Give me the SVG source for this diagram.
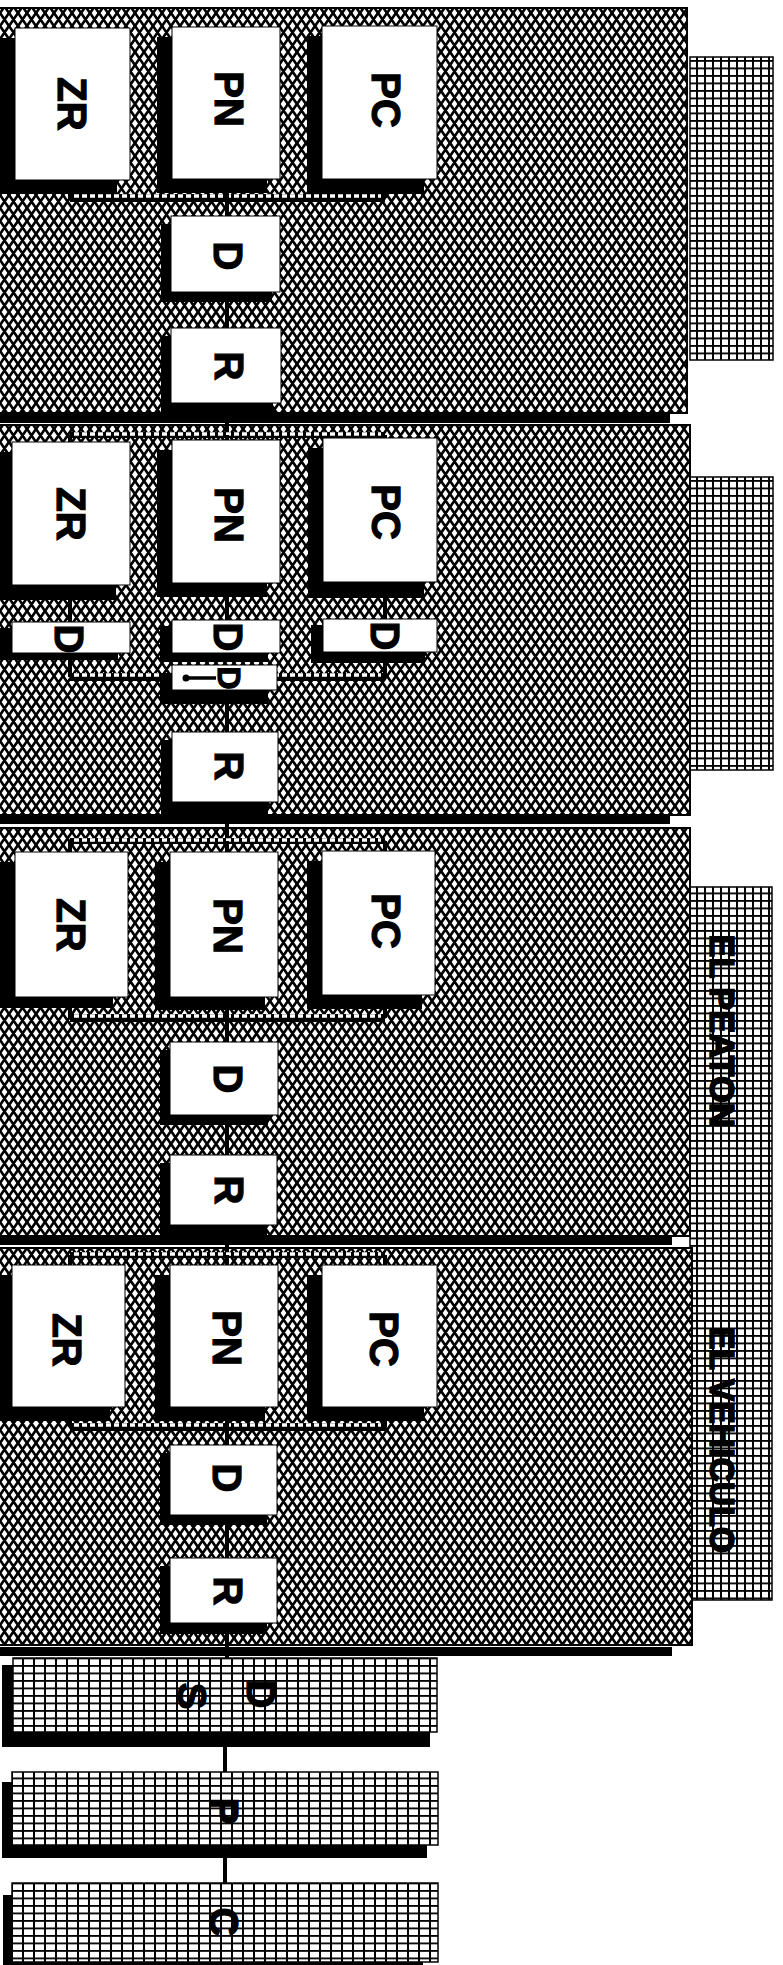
<svg xmlns="http://www.w3.org/2000/svg" width="783" height="1965" viewBox="0 0 783 1965">
<style>
.bg{fill:#fff}
.panel{fill:url(#hatch);stroke:#000;stroke-width:2}
.bar{fill:#000}
.tab{fill:url(#grid);stroke:#000;stroke-width:1.5}
.gbox{fill:url(#grid2);stroke:#000;stroke-width:1.5}
.box{fill:#fff;stroke:#000;stroke-width:1}
.sh{fill:#000}
.lbl{font-family:"Liberation Sans",Arial,sans-serif;font-weight:bold;font-size:40px;fill:#000;stroke:#000;stroke-width:1.2}
.tlbl{font-family:"Liberation Sans",Arial,sans-serif;font-weight:bold;font-size:35px;fill:#000;stroke:#000;stroke-width:1.5}
.band{stroke:#000;stroke-width:8;fill:none}
.tband{stroke:#000;stroke-width:6;fill:none}
.dots{stroke:#fff;stroke-width:3.5;stroke-dasharray:5 3;fill:none}
.v{stroke:#000;stroke-width:4;fill:none}
</style>
<defs>
<pattern id="hatch" width="9" height="13" patternUnits="userSpaceOnUse">
<rect width="9" height="13" fill="#fff"/>
<path d="M-9,-13L18,26M-9,0L9,26M0,-13L18,13M-9,26L18,-13M-9,13L9,-13M0,26L18,0" stroke="#000" stroke-width="2.7"/>
</pattern>
<pattern id="grid" width="8" height="7.5" patternUnits="userSpaceOnUse">
<rect width="8" height="7.5" fill="#fff"/>
<rect width="2" height="7.5" fill="#000"/>
<rect width="8" height="1.8" fill="#000"/>
</pattern>
<pattern id="grid2" width="11" height="7.5" patternUnits="userSpaceOnUse">
<rect width="11" height="7.5" fill="#fff"/>
<rect width="2" height="7.5" fill="#000"/>
<rect width="11" height="1.8" fill="#000"/>
</pattern>
</defs>
<rect class="bg" width="783" height="1965"/>

<g id="panels">
<rect class="tab" x="690" y="57" width="83" height="303"/>
<rect class="tab" x="690" y="477" width="83" height="293"/>
<rect class="tab" x="690" y="887" width="82" height="713"/>
<rect class="panel" x="-2" y="8" width="689" height="405"/>
<rect class="bar" x="0" y="413" width="670" height="10"/>
<rect class="panel" x="-2" y="425" width="692" height="390"/>
<rect class="bar" x="0" y="815" width="670" height="9"/>
<rect class="panel" x="-2" y="828" width="692" height="408"/>
<rect class="bar" x="0" y="1236" width="672" height="9"/>
<rect class="panel" x="-2" y="1248" width="694" height="397"/>
<rect class="bar" x="0" y="1647" width="672" height="9"/>
</g>

<g id="tab-labels">
<text class="tlbl" text-anchor="middle" textLength="193" lengthAdjust="spacingAndGlyphs" transform="translate(710,1031) rotate(90)">EL PEATON</text>
<text class="tlbl" text-anchor="middle" textLength="226" lengthAdjust="spacingAndGlyphs" transform="translate(710,1440) rotate(90)">EL VEHICULO</text>
</g>

<g id="connectors">
<!-- panel 1 -->
<path class="band" d="M70,198H385"/><path class="dots" d="M74,196H381"/>
<path class="v" d="M70,190V198M385,190V198M227,190V216M227,300V328M227,410V435"/>
<!-- panel 2 -->
<path class="tband" d="M70,435H385"/><path class="dots" d="M74,434H381"/>
<path class="v" d="M70,435V442M227,435V440M385,435V438"/>
<path class="v" d="M70,596V622M227,596V620M385,596V619"/>
<path class="band" d="M70,677H385"/><path class="dots" d="M74,675H381"/>
<path class="v" d="M70,658V677M385,658V677M227,700V732M227,810V841"/>
<!-- panel 3 -->
<path class="tband" d="M70,841H385"/><path class="dots" d="M74,840H381"/>
<path class="v" d="M70,841V852M227,841V852M385,841V851"/>
<path class="band" d="M70,1018H385"/><path class="dots" d="M74,1016H381"/>
<path class="v" d="M70,1008V1018M385,1008V1018M227,1008V1042M227,1122V1155M227,1232V1255"/>
<!-- panel 4 -->
<path class="tband" d="M70,1255H385"/><path class="dots" d="M74,1254H381"/>
<path class="v" d="M70,1255V1265M227,1255V1265M385,1255V1265"/>
<path class="band" d="M70,1427H385"/><path class="dots" d="M74,1425H381"/>
<path class="v" d="M70,1418V1427M385,1418V1427M227,1418V1445M227,1522V1558M227,1630V1658"/>
<!-- bottom -->
<path class="v" d="M225,1740V1772M225,1850V1883"/>
</g>

<g id="zr1"><rect class="sh" x="0" y="38" width="117" height="156"/><rect class="box" x="15" y="28" width="115" height="152"/><text class="lbl" text-anchor="middle" transform="translate(58,104) rotate(90)">ZR</text></g>
<g id="pn1"><rect class="sh" x="157" y="37" width="110" height="156"/><rect class="box" x="172" y="27" width="108" height="152"/><text class="lbl" text-anchor="middle" transform="translate(215,99) rotate(90)">PN</text></g>
<g id="pc1"><rect class="sh" x="307" y="36" width="117" height="158"/><rect class="box" x="322" y="26" width="115" height="153"/><text class="lbl" text-anchor="middle" transform="translate(372,100) rotate(90)">PC</text></g>
<g id="d1"><rect class="sh" x="161" y="224" width="111" height="78"/><rect class="box" x="171" y="216" width="109" height="76"/><text class="lbl" text-anchor="middle" transform="translate(214,256) rotate(90)">D</text></g>
<g id="r1"><rect class="sh" x="161" y="336" width="112" height="77"/><rect class="box" x="171" y="328" width="110" height="75"/><text class="lbl" text-anchor="middle" transform="translate(215,366) rotate(90)">R</text></g>

<g id="zr2"><rect class="sh" x="0" y="452" width="116" height="148"/><rect class="box" x="12" y="442" width="118" height="143"/><text class="lbl" text-anchor="middle" transform="translate(57,514) rotate(90)">ZR</text></g>
<g id="pn2"><rect class="sh" x="157" y="450" width="110" height="147"/><rect class="box" x="172" y="440" width="108" height="143"/><text class="lbl" text-anchor="middle" transform="translate(215,515) rotate(90)">PN</text></g>
<g id="pc2"><rect class="sh" x="308" y="448" width="116" height="150"/><rect class="box" x="323" y="438" width="114" height="144"/><text class="lbl" text-anchor="middle" transform="translate(372,512) rotate(90)">PC</text></g>
<g id="zrd2"><rect class="sh" x="0" y="628" width="118" height="32"/><rect class="box" x="12" y="622" width="118" height="31"/><text class="lbl" text-anchor="middle" transform="translate(55,639) rotate(90)">D</text></g>
<g id="pnd2"><rect class="sh" x="160" y="626" width="108" height="36"/><rect class="box" x="172" y="620" width="108" height="33"/><text class="lbl" text-anchor="middle" transform="translate(214,637) rotate(90)">D</text></g>
<g id="pcd2"><rect class="sh" x="311" y="625" width="114" height="38"/><rect class="box" x="323" y="619" width="114" height="33"/><text class="lbl" text-anchor="middle" transform="translate(371,636) rotate(90)">D</text></g>
<g id="di2"><rect class="sh" x="160" y="673" width="108" height="31"/><rect class="box" x="172" y="665" width="105" height="25"/><text class="lbl" text-anchor="middle" style="font-size:32px" transform="translate(218,678) rotate(90)">D</text><path d="M186,678H216" stroke="#000" stroke-width="3.5"/><circle cx="186" cy="678" r="3.5" fill="#000"/></g>
<g id="r2"><rect class="sh" x="161" y="740" width="107" height="74"/><rect class="box" x="172" y="732" width="106" height="70"/><text class="lbl" text-anchor="middle" transform="translate(215,766) rotate(90)">R</text></g>

<g id="zr3"><rect class="sh" x="0" y="862" width="113" height="146"/><rect class="box" x="15" y="852" width="113" height="145"/><text class="lbl" text-anchor="middle" transform="translate(57,925) rotate(90)">ZR</text></g>
<g id="pn3"><rect class="sh" x="155" y="862" width="110" height="148"/><rect class="box" x="170" y="852" width="108" height="145"/><text class="lbl" text-anchor="middle" transform="translate(214,926) rotate(90)">PN</text></g>
<g id="pc3"><rect class="sh" x="307" y="861" width="115" height="148"/><rect class="box" x="322" y="851" width="113" height="144"/><text class="lbl" text-anchor="middle" transform="translate(372,921) rotate(90)">PC</text></g>
<g id="d3"><rect class="sh" x="160" y="1050" width="108" height="75"/><rect class="box" x="170" y="1042" width="108" height="73"/><text class="lbl" text-anchor="middle" transform="translate(214,1079) rotate(90)">D</text></g>
<g id="r3"><rect class="sh" x="160" y="1163" width="107" height="72"/><rect class="box" x="170" y="1155" width="107" height="70"/><text class="lbl" text-anchor="middle" transform="translate(215,1190) rotate(90)">R</text></g>

<g id="zr4"><rect class="sh" x="0" y="1275" width="110" height="146"/><rect class="box" x="12" y="1265" width="113" height="142"/><text class="lbl" text-anchor="middle" transform="translate(53,1340) rotate(90)">ZR</text></g>
<g id="pn4"><rect class="sh" x="155" y="1275" width="110" height="146"/><rect class="box" x="170" y="1265" width="108" height="142"/><text class="lbl" text-anchor="middle" transform="translate(213,1338) rotate(90)">PN</text></g>
<g id="pc4"><rect class="sh" x="307" y="1275" width="117" height="146"/><rect class="box" x="322" y="1265" width="115" height="142"/><text class="lbl" text-anchor="middle" transform="translate(370,1339) rotate(90)">PC</text></g>
<g id="d4"><rect class="sh" x="160" y="1453" width="107" height="72"/><rect class="box" x="170" y="1445" width="107" height="70"/><text class="lbl" text-anchor="middle" transform="translate(213,1478) rotate(90)">D</text></g>
<g id="r4"><rect class="sh" x="160" y="1566" width="107" height="68"/><rect class="box" x="170" y="1558" width="107" height="65"/><text class="lbl" text-anchor="middle" transform="translate(214,1591) rotate(90)">R</text></g>

<g id="ds"><rect class="sh" x="2" y="1665" width="428" height="82"/><rect class="gbox" x="13" y="1658" width="424" height="74"/><text class="lbl" text-anchor="middle" transform="translate(247,1694) rotate(90)">D</text><text class="lbl" text-anchor="middle" transform="translate(178,1696) rotate(90)">S</text></g>
<g id="p"><rect class="sh" x="2" y="1782" width="425" height="76"/><rect class="gbox" x="12" y="1772" width="426" height="73"/><text class="lbl" text-anchor="middle" transform="translate(210,1811) rotate(90)">P</text></g>
<g id="c"><rect class="sh" x="3" y="1895" width="420" height="70"/><rect class="gbox" x="12" y="1883" width="426" height="79"/><text class="lbl" text-anchor="middle" transform="translate(210,1922) rotate(90)">C</text></g>
</svg>
